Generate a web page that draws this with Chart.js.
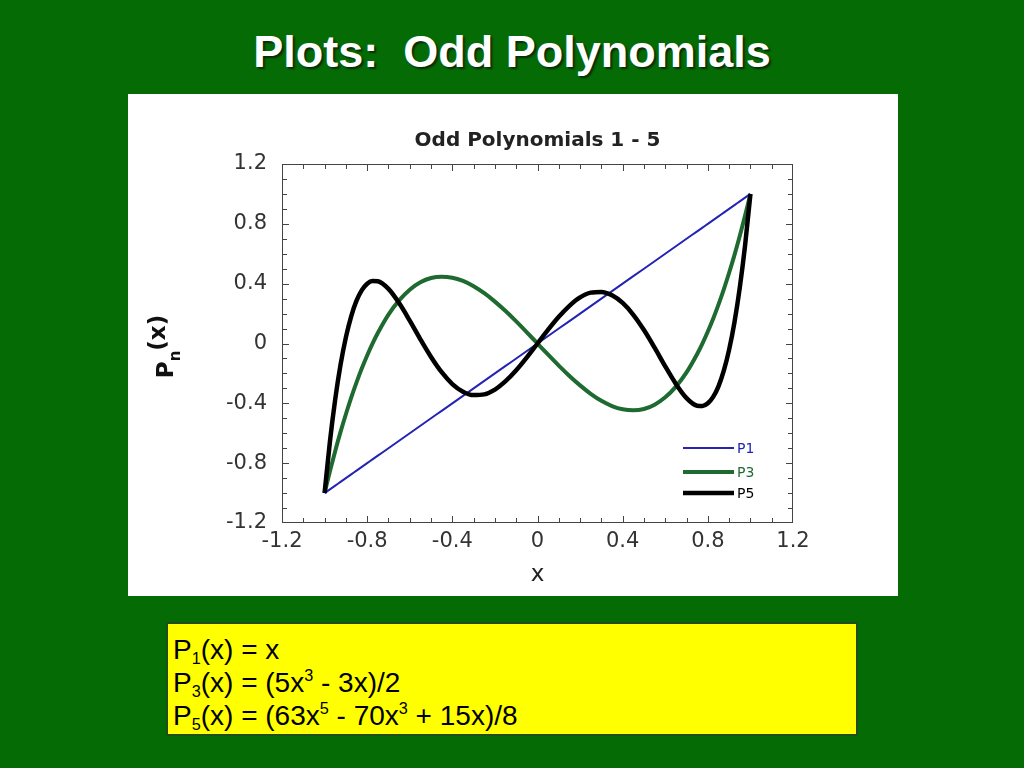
<!DOCTYPE html>
<html>
<head>
<meta charset="utf-8">
<script src="https://cdn.jsdelivr.net/npm/chart.js@4.4.1/dist/chart.umd.min.js"></script>
<style>
  html, body { margin: 0; padding: 0; }
  body { width: 1024px; height: 768px; background: #056c05; position: relative; overflow: hidden; font-family: "Liberation Sans", Arial, sans-serif; }
  h1 { position: absolute; left: 0; top: 26px; width: 1024px; margin: 0; text-align: center; white-space: pre;
       color: #fff; font-size: 45px; font-weight: bold; text-shadow: 2px 2px 2px #0b2a0b; }
  #plotBox { position: absolute; left: 128px; top: 94px; width: 770px; height: 502px; background: #fff; }
  #formulas { position: absolute; left: 166px; top: 622px; width: 692px; height: 114px; box-sizing: border-box;
              background: #ffff00; border: 2px solid #1c4f1c; padding: 9px 0 0 5px; font-size: 28px; line-height: 33px; color: #000; }
  #formulas sub, #formulas sup { font-size: 58%; line-height: 0; }
  #formulas sub { vertical-align: -0.3em; }
  #formulas sup { vertical-align: 0.7em; }
</style>
</head>
<body>
<h1>Plots:  Odd Polynomials</h1>
<div id="plotBox"><canvas id="myChart" width="770" height="502"></canvas></div>
<div id="formulas">
  <div>P<sub>1</sub>(x) = x</div>
  <div>P<sub>3</sub>(x) = (5x<sup>3</sup> - 3x)/2</div>
  <div>P<sub>5</sub>(x) = (63x<sup>5</sup> - 70x<sup>3</sup> + 15x)/8</div>
</div>
<script>
// values
const xValues = [-1, -0.975, -0.95, -0.925, -0.9, -0.875, -0.85, -0.825, -0.8, -0.775, -0.75, -0.7, -0.65, -0.6, -0.55,
  -0.5, -0.45, -0.4, -0.35, -0.3, -0.25, -0.2, -0.15, -0.1, -0.05, 0, 0.05, 0.1, 0.15, 0.2, 0.25, 0.3, 0.35, 0.4, 0.45,
  0.5, 0.55, 0.6, 0.65, 0.7, 0.75, 0.775, 0.8, 0.825, 0.85, 0.875, 0.9, 0.925, 0.95, 0.975, 1];
const p1Values = [-1, -0.975, -0.95, -0.925, -0.9, -0.875, -0.85, -0.825, -0.8, -0.775, -0.75, -0.7, -0.65, -0.6, -0.55,
  -0.5, -0.45, -0.4, -0.35, -0.3, -0.25, -0.2, -0.15, -0.1, -0.05, 0, 0.05, 0.1, 0.15, 0.2, 0.25, 0.3, 0.35, 0.4, 0.45,
  0.5, 0.55, 0.6, 0.65, 0.7, 0.75, 0.775, 0.8, 0.825, 0.85, 0.875, 0.9, 0.925, 0.95, 0.975, 1];
const p3Values = [-1, -0.855, -0.718, -0.591, -0.473, -0.362, -0.26, -0.166, -0.08, -0.001, 0.07, 0.193, 0.288, 0.36, 0.409,
  0.438, 0.447, 0.44, 0.418, 0.383, 0.336, 0.28, 0.217, 0.148, 0.075, 0, -0.075, -0.148, -0.217, -0.28, -0.336, -0.383, -0.418, -0.44, -0.447,
  -0.438, -0.409, -0.36, -0.288, -0.193, -0.07, 0.001, 0.08, 0.166, 0.26, 0.362, 0.473, 0.591, 0.718, 0.855, 1];
const p5Values = [-1, -0.657, -0.373, -0.142, 0.041, 0.182, 0.286, 0.357, 0.4, 0.418, 0.416, 0.365, 0.27, 0.153, 0.028,
  -0.09, -0.192, -0.271, -0.322, -0.345, -0.34, -0.308, -0.252, -0.179, -0.093, 0, 0.093, 0.179, 0.252, 0.308, 0.34, 0.345, 0.322, 0.271, 0.192,
  0.09, -0.028, -0.153, -0.27, -0.365, -0.416, -0.418, -0.4, -0.357, -0.286, -0.182, -0.041, 0.142, 0.373, 0.657, 1];
const seriesNames = ['P1', 'P3', 'P5'];
const tickValues = [-1.2, -0.8, -0.4, 0, 0.4, 0.8, 1.2];

const toPoints = vals => xValues.map((x, i) => ({ x: x, y: vals[i] }));

const decor = {
  id: 'decor',
  beforeDatasetsDraw(chart) {
    const { ctx, chartArea: a, scales } = chart;
    ctx.save();
    ctx.strokeStyle = '#444';
    ctx.lineWidth = 1;
    ctx.strokeRect(Math.round(a.left) + 0.5, Math.round(a.top) + 0.5, Math.round(a.width) - 1, Math.round(a.height) - 1);
    ctx.beginPath();
    for (let i = -11; i <= 11; i++) {
      const len = i % 4 === 0 ? 7 : 5;
      const px = Math.round(scales.x.getPixelForValue(i / 10)) + 0.5;
      const py = Math.round(scales.y.getPixelForValue(i / 10)) + 0.5;
      ctx.moveTo(px, a.bottom); ctx.lineTo(px, a.bottom - len);
      ctx.moveTo(px, a.top); ctx.lineTo(px, a.top + len);
      ctx.moveTo(a.left, py); ctx.lineTo(a.left + len, py);
      ctx.moveTo(a.right, py); ctx.lineTo(a.right - len, py);
    }
    ctx.stroke();
    ctx.restore();
  },
  afterDatasetsDraw(chart) {
    const { ctx, chartArea: a } = chart;
    ctx.save();
    // legend inside the plot, bottom right
    const rows = [a.bottom - 75, a.bottom - 51, a.bottom - 30];
    chart.data.datasets.forEach((ds, i) => {
      ctx.strokeStyle = ds.borderColor;
      ctx.lineWidth = ds.borderWidth;
      ctx.beginPath();
      ctx.moveTo(a.right - 110, rows[i]);
      ctx.lineTo(a.right - 59, rows[i]);
      ctx.stroke();
      ctx.fillStyle = ds.borderColor;
      ctx.font = '14px "DejaVu Sans"';
      ctx.textBaseline = 'middle';
      ctx.fillText(ds.label, a.right - 56, rows[i] + 1);
    });
    // y axis title P_n(x)
    ctx.translate(a.left - 117, (a.top + a.bottom) / 2 + 3);
    ctx.rotate(-Math.PI / 2);
    ctx.fillStyle = '#111';
    ctx.textBaseline = 'alphabetic';
    const big = 'bold 23px "DejaVu Sans"', small = 'bold 15px "DejaVu Sans"';
    ctx.font = big; const wP = ctx.measureText('P').width; const wX = ctx.measureText('(x)').width;
    ctx.font = small; const wN = ctx.measureText('n').width;
    let x0 = -(wP + wN + wX) / 2;
    ctx.font = big; ctx.fillText('P', x0, 8);
    ctx.font = small; ctx.fillText('n', x0 + wP, 15);
    ctx.font = big; ctx.fillText('(x)', x0 + wP + wN, 0);
    ctx.restore();
  }
};

new Chart(document.getElementById('myChart'), {
  type: 'scatter',
  data: {
    datasets: [
      { label: seriesNames[0], data: toPoints(p1Values), borderColor: '#2323b4', borderWidth: 2, order: 1 },
      { label: seriesNames[1], data: toPoints(p3Values), borderColor: '#1e6a30', borderWidth: 4, order: 2 },
      { label: seriesNames[2], data: toPoints(p5Values), borderColor: '#000000', borderWidth: 4.5, order: 0 }
    ]
  },
  options: {
    responsive: false,
    animation: false,
    showLine: true,
    elements: { point: { radius: 0 }, line: { cubicInterpolationMode: 'monotone', fill: false } },
    layout: { padding: { left: 0, right: 105, top: 0, bottom: 0 } },
    plugins: {
      legend: { display: false },
      tooltip: { enabled: false },
      title: {
        display: true, fullSize: false, text: 'Odd Polynomials 1 - 5', color: '#222',
        font: { family: '"DejaVu Sans"', size: 20, weight: 'bold' },
        padding: { top: 35, bottom: 11 }
      }
    },
    scales: {
      x: {
        type: 'linear', min: -1.2, max: 1.2,
        afterBuildTicks: s => { s.ticks = tickValues.map(v => ({ value: v })); },
        afterFit: s => { s.height = 73; },
        grid: { display: false, drawTicks: false },
        border: { display: false },
        ticks: { color: '#333', padding: 6, maxRotation: 0, font: { family: '"DejaVu Sans"', size: 21 },
                 callback: v => String(+v.toFixed(1)) },
        title: { display: true, text: 'x', color: '#222', font: { family: '"DejaVu Sans"', size: 23 }, padding: { top: 0, bottom: 7 } }
      },
      y: {
        type: 'linear', min: -1.2, max: 1.2,
        afterBuildTicks: s => { s.ticks = tickValues.map(v => ({ value: v })); },
        afterFit: s => { s.width = 154; },
        grid: { display: false, drawTicks: false },
        border: { display: false },
        ticks: { color: '#333', padding: 15, font: { family: '"DejaVu Sans"', size: 21 },
                 callback: v => String(+v.toFixed(1)) }
      }
    }
  },
  plugins: [decor]
});
</script>
</body>
</html>
